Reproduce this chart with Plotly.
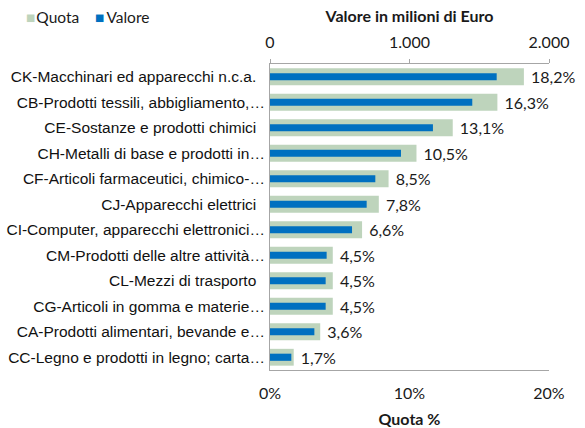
import plotly.graph_objects as go

categories = [
    "CK-Macchinari ed apparecchi n.c.a.",
    "CB-Prodotti tessili, abbigliamento,…",
    "CE-Sostanze e prodotti chimici",
    "CH-Metalli di base e prodotti in…",
    "CF-Articoli farmaceutici, chimico-…",
    "CJ-Apparecchi elettrici",
    "CI-Computer, apparecchi elettronici…",
    "CM-Prodotti delle altre attività…",
    "CL-Mezzi di trasporto",
    "CG-Articoli in gomma e materie…",
    "CA-Prodotti alimentari, bevande e…",
    "CC-Legno e prodotti in legno; carta…",
]
quota = [18.2, 16.3, 13.1, 10.5, 8.5, 7.8, 6.6, 4.5, 4.5, 4.5, 3.6, 1.7]
valore = [1625, 1450, 1168, 939, 755, 693, 588, 406, 399, 399, 318, 153]
quota_ticks = [0, 10, 20]
valore_ticks = [0, 1000, 2000]

GREEN = "#BED4BC"
BLUE = "#0070C0"
TXT = "#1a1a1a"
axis_color = "#A6A6A6"

# pad labels that are not truncated so they align like the original
labels = [c if c.endswith("…") else c + "\u00a0\u00a0" for c in categories]

fig = go.Figure()
fig.add_trace(go.Bar(
    name="Quota", y=labels, x=quota, orientation="h",
    marker=dict(color=GREEN, line=dict(width=0)),
    width=0.66, xaxis="x", yaxis="y",
    text=["\u00a0" + f"{v:.1f}".replace(".", ",") + "%" for v in quota],
    textposition="outside", cliponaxis=False, constraintext="none",
    textfont=dict(family="Lato", size=16, color=TXT),
    showlegend=False, hoverinfo="skip",
))
fig.add_trace(go.Bar(
    name="Valore", y=labels, x=valore, orientation="h",
    marker=dict(color=BLUE, line=dict(width=0)),
    width=0.28, xaxis="x2", yaxis="y",
    showlegend=False, hoverinfo="skip",
))

legend_text = (f"<span style='color:{GREEN}'>■</span>\u200aQuota"
               f"\u00a0\u00a0\u00a0\u00a0<span style='color:{BLUE}'>■</span>\u2009Valore")

fig.update_layout(
    width=585, height=428,
    margin=dict(l=270, r=36, t=64, b=58),
    paper_bgcolor="white", plot_bgcolor="white",
    barmode="overlay",
    showlegend=False,
    annotations=[dict(text=legend_text, xref="paper", yref="paper",
                      x=-0.882, y=1.0, yshift=47, xanchor="left", yanchor="middle",
                      showarrow=False,
                      font=dict(family="Lato", size=15.5, color=TXT))],
    xaxis=dict(range=[0, 20], tickmode="array", tickvals=quota_ticks,
               ticktext=[f"{v}%" for v in quota_ticks],
               showgrid=False, zeroline=False, showline=True,
               linecolor=axis_color, linewidth=1, ticks="", automargin=False,
               ticklabelstandoff=9,
               tickfont=dict(family="Lato", size=16, color=TXT),
               title=dict(text="<b>Quota %</b>", standoff=14,
                          font=dict(family="Lato", size=16, color=TXT))),
    xaxis2=dict(range=[0, 2000], tickmode="array", tickvals=valore_ticks,
                ticktext=[f"{v:,}".replace(",", ".") for v in valore_ticks],
                overlaying="x", side="top", automargin=False,
                showgrid=False, zeroline=False, showline=True,
                linecolor=axis_color, linewidth=1, ticks="outside",
                ticklen=4, tickcolor=axis_color, ticklabelstandoff=5,
                tickfont=dict(family="Lato", size=16, color=TXT),
                title=dict(text="<b>Valore in milioni di Euro</b>", standoff=4,
                           font=dict(family="Lato", size=16, color=TXT))),
    yaxis=dict(autorange="reversed", showgrid=False, zeroline=False,
               showline=True, linecolor=axis_color, linewidth=1, ticks="",
               ticklabelstandoff=1, automargin=False,
               tickfont=dict(family="Liberation Sans", size=15.5, color="#111111")),
)

fig.write_html("out.html", config={"displayModeBar": False},
               post_script="document.body.style.margin='0';")
